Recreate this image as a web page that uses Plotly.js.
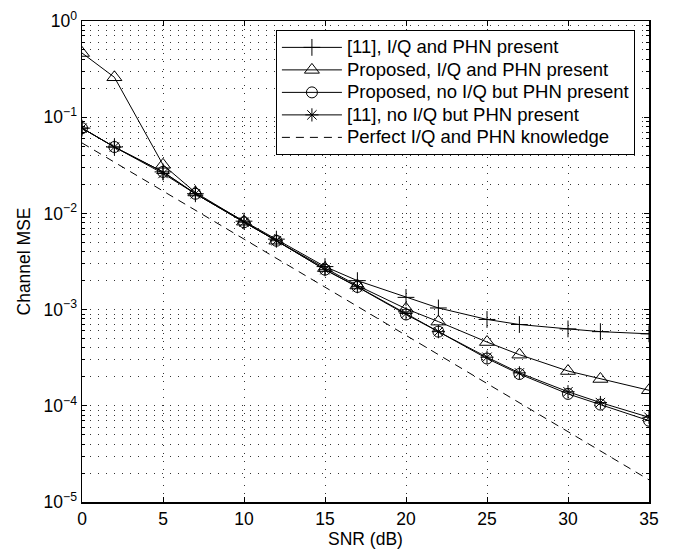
<!DOCTYPE html>
<html>
<head>
<meta charset="utf-8">
<script src="https://cdn.plot.ly/plotly-3.0.1.min.js"></script>
<style>html,body{margin:0;padding:0;background:#fff;}#chart{width:680px;height:549px;}</style>
</head>
<body>
<div id="chart"></div>
<script>
// ---- data ----
const snr = [0, 2, 5, 7, 10, 12, 15, 17, 20, 22, 25, 27, 30, 32, 35];
const ref11IQ = [0.077, 0.049, 0.027, 0.016, 0.0083, 0.0054, 0.0028, 0.00200, 0.00134, 0.00104, 0.00079, 0.00070, 0.00063, 0.00059, 0.00056];
const propIQ = [0.465, 0.26, 0.032, 0.0165, 0.0082, 0.0052, 0.0027, 0.00178, 0.00102, 0.00075, 0.00046, 0.00034, 0.00023, 0.00019, 0.000145];
const propNoIQ = [0.077, 0.049, 0.027, 0.016, 0.0081, 0.0052, 0.0026, 0.00172, 0.00089, 0.00059, 0.00031, 0.000214, 0.000133, 0.000103, 0.000070];
const ref11NoIQ = [0.077, 0.049, 0.026, 0.016, 0.0081, 0.0052, 0.0026, 0.00173, 0.00091, 0.00059, 0.00032, 0.000220, 0.000140, 0.000108, 0.000076];
const perfect = [0.054, 0.034, 0.017, 0.0108, 0.0054, 0.0034, 0.0017, 0.00108, 0.00054, 0.00034, 0.00017, 0.000108, 0.000054, 0.000034, 0.000017];

const seriesNames = [
  "[11], I/Q and PHN present",
  "Proposed, I/Q and PHN present",
  "Proposed, no I/Q but PHN present",
  "[11], no I/Q but PHN present",
  "Perfect I/Q and PHN knowledge"
];
const yTickVals = [1, 0.1, 0.01, 0.001, 0.0001, 0.00001];
const yTickText = ["10<sup>0</sup>", "10<sup>\u22121</sup>", "10<sup>\u22122</sup>", "10<sup>\u22123</sup>", "10<sup>\u22124</sup>", "10<sup>\u22125</sup>"];
const xTickVals = [0, 5, 10, 15, 20, 25, 30, 35];

// minor log tick positions (2..9 of every decade)
const yMinor = [];
for (let e = -5; e < 0; e++) for (let d = 2; d <= 9; d++) yMinor.push(d * Math.pow(10, e));

const black = "#000";
const legendTextSize = 18.5;
function tr(y, name, symbol, size, dash) {
  const t = {
    x: snr, y: y, type: "scatter",
    name: '<span style="font-size:' + legendTextSize + 'px">' + name + '</span>',
    mode: symbol ? "lines+markers" : "lines",
    line: {color: black, width: 1, dash: dash || "solid"}
  };
  if (symbol) t.marker = {symbol: symbol, size: size, color: black, line: {color: black, width: 1}};
  return t;
}

const data = [
  tr(ref11IQ, seriesNames[0], "cross-thin-open", 12, null),
  tr(propIQ, seriesNames[1], "triangle-up-open", 13, null),
  tr(propNoIQ, seriesNames[2], "circle-open", 11, null),
  tr(ref11NoIQ, seriesNames[3], "asterisk-open", 11, null),
  tr(perfect, seriesNames[4], null, 0, "8px,6px")
];

const gridDash = "1px,7px";
const gridColor = "#333";
const fam = "Liberation Sans, Arial, Helvetica, sans-serif";
const fs = 17.5;

const layout = {
  width: 680, height: 549,
  margin: {l: 82, r: 31, t: 21, b: 47},
  paper_bgcolor: "#fff", plot_bgcolor: "#fff",
  font: {family: fam, size: fs, color: black},
  showlegend: true,
  legend: {
    x: 0.342, y: 0.981, xanchor: "left", yanchor: "top",
    bgcolor: "#fff", bordercolor: black, borderwidth: 1,
    font: {family: fam, size: 15, color: black},
    traceorder: "normal", itemwidth: 60
  },
  xaxis: {
    range: [0, 35], tickmode: "array", tickvals: xTickVals,
    ticks: "inside", ticklen: 5, tickcolor: black, tickwidth: 1,
    showline: true, linecolor: black, linewidth: 1.5, mirror: "ticks",
    showgrid: true, gridcolor: gridColor, griddash: gridDash, gridwidth: 1,
    zeroline: false, automargin: false,
    tickfont: {family: fam, size: fs, color: black},
    title: {text: "SNR (dB)", font: {family: fam, size: fs, color: black}, standoff: 0}
  },
  yaxis: {
    type: "log", range: [-5, 0],
    tickmode: "array", tickvals: yTickVals, ticktext: yTickText,
    ticks: "inside", ticklen: 5, tickcolor: black, tickwidth: 1,
    showline: true, linecolor: black, linewidth: 1.5, mirror: "ticks",
    showgrid: true, gridcolor: gridColor, griddash: gridDash, gridwidth: 1,
    zeroline: false, automargin: false,
    minor: {tickmode: "array", tickvals: yMinor, ticks: "inside", ticklen: 3, tickcolor: black,
            showgrid: true, gridcolor: gridColor, griddash: gridDash, gridwidth: 1},
    tickfont: {family: fam, size: fs, color: black},
    title: {text: "Channel MSE", font: {family: fam, size: fs, color: black}, standoff: 8}
  }
};

Plotly.newPlot("chart", data, layout, {staticPlot: true, displayModeBar: false});
</script>
</body>
</html>
